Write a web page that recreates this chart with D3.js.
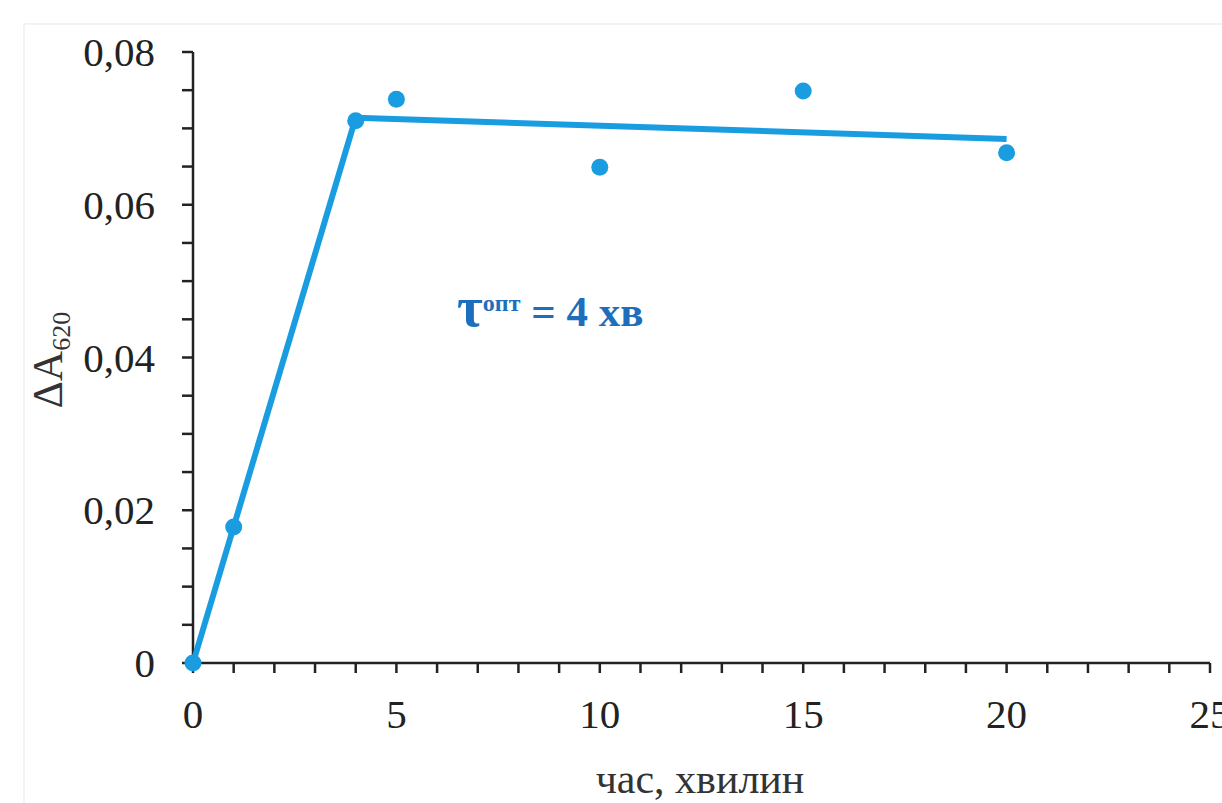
<!DOCTYPE html>
<html>
<head>
<meta charset="utf-8">
<script src="https://cdn.jsdelivr.net/npm/d3@7"></script>
<style>
  body { margin: 0; background: #fff; }
  text { font-family: "Liberation Serif", "DejaVu Serif", serif; }
</style>
</head>
<body>
<svg id="chart" width="1222" height="803"></svg>
<script>
// measured points
const chas = [0, 1, 4, 5, 10, 15, 20]
const deltaA = [0, 0.0178, 0.0710, 0.0738, 0.0649, 0.0749, 0.0668]

// two-segment fit line
const lineX = [0, 4, 20]
const lineY = [0, 0.0714, 0.0686]

const xTicks = [0, 5, 10, 15, 20, 25]
const yTicks = [0, 0.02, 0.04, 0.06, 0.08]

const blue = "#1a9de0"
const textBlue = "#1d6fbd"

const svg = d3.select("#chart")

// faint frame like the scanned original
svg.append("rect")
    .attr("x", 24).attr("y", 24)
    .attr("width", 1222).attr("height", 803)
    .attr("fill", "none")
    .attr("stroke", "#f0f0f0")
    .attr("stroke-width", 1.5)

const x = d3.scaleLinear().domain([0, 25]).range([193, 1210])
const y = d3.scaleLinear().domain([0, 0.08]).range([663, 52])

const fmt = d => d === 0 ? "0" : d3.format(".2f")(d).replace(".", ",")

// x axis
const gx = svg.append("g").attr("transform", `translate(0,${y(0)})`)
gx.append("line")
    .attr("x1", x(0)).attr("x2", x(25))
    .attr("stroke", "#222").attr("stroke-width", 2.5)
gx.selectAll(".xt")
    .data(d3.range(0, 26))
    .join("line")
    .attr("x1", d => x(d)).attr("x2", d => x(d))
    .attr("y1", 0).attr("y2", 10)
    .attr("stroke", "#222").attr("stroke-width", 2.5)
gx.selectAll(".xl")
    .data(xTicks)
    .join("text")
    .attr("x", d => x(d))
    .attr("y", 65)
    .attr("text-anchor", "middle")
    .attr("font-size", 41)
    .attr("fill", "#222")
    .text(d => d)

// y axis
const gy = svg.append("g").attr("transform", `translate(${x(0)},0)`)
gy.append("line")
    .attr("y1", y(0)).attr("y2", y(0.08))
    .attr("stroke", "#222").attr("stroke-width", 2.5)
gy.selectAll(".yt")
    .data(d3.range(0, 17).map(i => i * 0.005))
    .join("line")
    .attr("y1", d => y(d)).attr("y2", d => y(d))
    .attr("x1", -11).attr("x2", 0)
    .attr("stroke", "#222").attr("stroke-width", 2.5)
gy.selectAll(".yl")
    .data(yTicks)
    .join("text")
    .attr("x", -38)
    .attr("y", d => y(d) + 14)
    .attr("text-anchor", "end")
    .attr("font-size", 41)
    .attr("fill", "#222")
    .text(fmt)

// axis titles
svg.append("text")
    .attr("x", 700).attr("y", 793)
    .attr("text-anchor", "middle")
    .attr("font-size", 42)
    .attr("fill", "#333")
    .text("час, хвилин")

const yTitle = svg.append("text")
    .attr("transform", "translate(62,360) rotate(-90)")
    .attr("text-anchor", "middle")
    .attr("font-size", 42)
    .attr("fill", "#333")
yTitle.append("tspan").text("ΔA")
yTitle.append("tspan").attr("font-size", 26).attr("dy", 8).text("620")

// fit line
const path = d3.line().x(d => x(d[0])).y(d => y(d[1]))
svg.append("path")
    .datum(d3.zip(lineX, lineY))
    .attr("d", path)
    .attr("fill", "none")
    .attr("stroke", blue)
    .attr("stroke-width", 6)
    .attr("stroke-linejoin", "round")

// points
svg.selectAll(".pt")
    .data(d3.zip(chas, deltaA))
    .join("circle")
    .attr("cx", d => x(d[0]))
    .attr("cy", d => y(d[1]))
    .attr("r", 8.5)
    .attr("fill", blue)

// annotation
const ann = svg.append("text")
    .attr("x", 457).attr("y", 326)
    .attr("font-size", 43)
    .attr("font-weight", "bold")
    .attr("fill", textBlue)
ann.append("tspan").attr("font-size", 56).text("τ")
ann.append("tspan").attr("font-size", 24).attr("dy", -15).text("опт")
ann.append("tspan").attr("dy", 15).text(" = 4 хв")
</script>
</body>
</html>
